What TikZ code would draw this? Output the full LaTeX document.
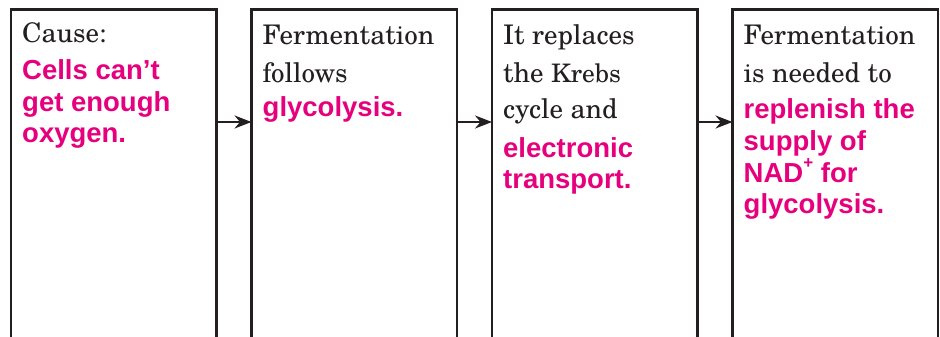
\documentclass[tikz,border=0pt]{standalone}
\usepackage{fontspec}
\newfontfamily\pinkfont{Liberation Sans}
\newfontfamily\bodyserif{TeX Gyre Schola}
\usetikzlibrary{arrows.meta}
\definecolor{magentaink}{RGB}{230,0,126}
\definecolor{inkblack}{RGB}{35,31,32}
\begin{document}
\begin{tikzpicture}[x=1pt,y=-1pt,
  box/.style={draw=inkblack,line width=2.5pt,minimum width=205.5pt,minimum height=400pt,anchor=north west,outer sep=0pt,inner sep=0pt},
  serifline/.style={anchor=base west,inner sep=0pt,text=inkblack,font=\bodyserif\fontsize{27}{30}\selectfont},
  sansline/.style={anchor=base west,inner sep=0pt,text=magentaink,font=\pinkfont\bfseries\fontsize{27.5}{30}\selectfont},
  arr/.style={draw=inkblack,line width=2pt,-{Stealth[length=17pt,width=13pt]}}]
\clip (0,0) rectangle (940,337);
\fill[white] (0,0) rectangle (940,337);
\node[box] (b1) at (11,9.5) {};
\node[box] (b2) at (251.5,9.5) {};
\node[box] (b3) at (492,9.5) {};
\node[box] (b4) at (732.5,9.5) {};
\coordinate (ar) at (0,122);
\draw[arr] (b1.north east |- ar) -- (b2.north west |- ar);
\draw[arr] (b2.north east |- ar) -- (b3.north west |- ar);
\draw[arr] (b3.north east |- ar) -- (b4.north west |- ar);
% box 1
\node[serifline] (t11) at (22,43) {Cause:};
\node[sansline] (t12) at (22,80) {Cells can’t};
\node[sansline] (t13) at (22,111) {get enough};
\node[sansline] (t14) at (22,142) {oxygen.};
% box 2
\node[serifline] (t21) at (262.5,45) {Fermentation};
\node[serifline] (t22) at (262.5,82) {follows};
\node[sansline] (t23) at (262.5,117) {glycolysis.};
% box 3
\node[serifline] (t31) at (503,45) {It replaces};
\node[serifline] (t32) at (503,82) {the {\fontsize{25.5}{28}\selectfont Krebs}};
\node[serifline] (t33) at (503,118) {cycle and};
\node[sansline] (t34) at (503,157) {electronic};
\node[sansline] (t35) at (503,188) {transport.};
% box 4
\node[serifline] (t41) at (743.5,45) {Fermentation};
\node[serifline] (t42) at (743.5,82) {is needed to};
\node[sansline] (t43) at (743.5,118) {replenish the};
\node[sansline] (t44) at (743.5,150) {supply of};
\node[sansline] (t45) at (743.5,182) {NAD\raisebox{0.5em}{\fontsize{17}{18}\selectfont +} for};
\node[sansline] (t46) at (743.5,213) {glycolysis.};
\end{tikzpicture}
\end{document}
